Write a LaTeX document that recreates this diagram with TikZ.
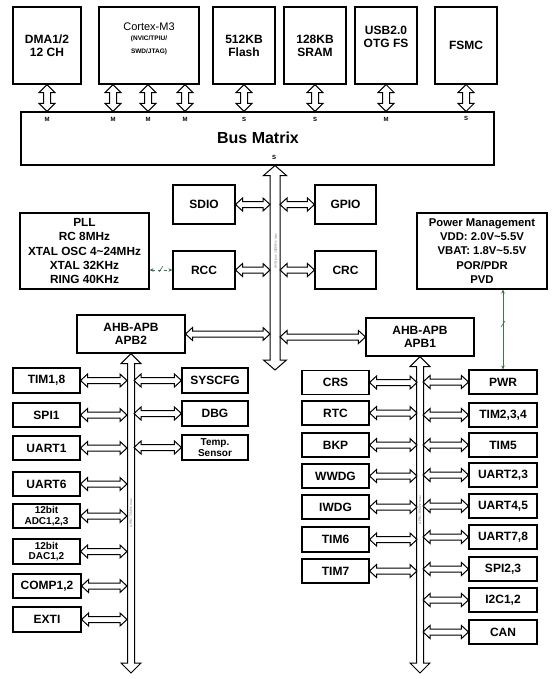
\documentclass[tikz,border=0pt]{standalone}
\usepackage{fontspec}
\setmainfont{Liberation Sans}
\usetikzlibrary{calc,arrows.meta}
\definecolor{grn}{RGB}{60,115,80}
\tikzset{
  box/.style={draw=black, line width=1.1pt, fill=white, inner sep=0pt, align=center,
    font=\bfseries\fontsize{12}{13}\selectfont},
  smallbox/.style={font=\bfseries\fontsize{10}{10.5}\selectfont},
  txt/.style={inner sep=0pt, align=center},
  arr/.style={draw=black, line width=1pt, fill=white, line join=miter},
  ml/.style={font=\bfseries\fontsize{6}{6}\selectfont, inner sep=0pt},
  bustxt/.style={font=\fontsize{3.5}{4}\selectfont, text=gray, rotate=90, inner sep=0pt},
  grnl/.style={draw=grn, line width=0.6pt, {Stealth[length=4pt,width=3.5pt]}-{Stealth[length=4pt,width=3.5pt]}}
}
% horizontal hollow double arrow: left point, right point, half shaft, half head, head length
\newcommand{\hdarr}[5]{\draw[arr] let \p1=(#1), \p2=(#2) in
  (\x1,\y1) -- (\x1+#5pt,\y1+#4pt) -- (\x1+#5pt,\y1+#3pt) -- (\x2-#5pt,\y1+#3pt) -- (\x2-#5pt,\y1+#4pt)
  -- (\x2,\y1) -- (\x2-#5pt,\y1-#4pt) -- (\x2-#5pt,\y1-#3pt) -- (\x1+#5pt,\y1-#3pt) -- (\x1+#5pt,\y1-#4pt) -- cycle;}
% vertical hollow double arrow: top point, bottom point, half shaft, half head, head length
\newcommand{\vdarr}[5]{\draw[arr] let \p1=(#1), \p2=(#2) in
  (\x1,\y1) -- (\x1+#4pt,\y1-#5pt) -- (\x1+#3pt,\y1-#5pt) -- (\x1+#3pt,\y2+#5pt) -- (\x1+#4pt,\y2+#5pt)
  -- (\x1,\y2) -- (\x1-#4pt,\y2+#5pt) -- (\x1-#3pt,\y2+#5pt) -- (\x1-#3pt,\y1-#5pt) -- (\x1-#4pt,\y1-#5pt) -- cycle;}
\newcommand{\hA}[2]{\hdarr{#1}{#2}{3}{6.5}{7}}
\newcommand{\vA}[2]{\vdarr{#1}{#2}{3.5}{8}{8}}
\begin{document}
\begin{tikzpicture}[x=1pt,y=-1pt]
\useasboundingbox (0,0) rectangle (554,679);
% ---------- top row ----------
\node[box, minimum width=68pt, minimum height=77pt] (dma) at (47,45.5) {DMA1/2\\12 CH};
\node[box, minimum width=100pt, minimum height=77pt] (cortex) at (149,45.5) {};
\node[txt, font=\fontsize{11}{12}\selectfont] (cortexT) at (149,27) {Cortex-M3};
\node[txt, font=\bfseries\fontsize{6.5}{13}\selectfont] (cortexS) at (149,45) {(NVIC/TPIU/\\SWD/JTAG)};
\node[box, minimum width=62pt, minimum height=77pt] (flash) at (244,45.5) {512KB\\Flash};
\node[box, minimum width=62pt, minimum height=77pt] (sram) at (315,45.5) {128KB\\SRAM};
\node[box, minimum width=62pt, minimum height=77pt] (usb) at (386,45.5) {};
\node[txt, font=\bfseries\fontsize{12}{13}\selectfont] (usbT) at (386,37) {USB2.0\\OTG FS};
\node[box, minimum width=62pt, minimum height=77pt] (fsmc) at (466,45.5) {FSMC};
% bus matrix
\node[box, minimum width=473pt, minimum height=53pt] (bm) at (257.5,138.5) {};
\node[txt, font=\bfseries\fontsize{16}{18}\selectfont] (bmT) at (258,138) {Bus Matrix};
\coordinate (c1) at (113,0);
\coordinate (c2) at (148,0);
\coordinate (c3) at (185,0);
\vA{dma.south}{dma.south |- bm.north}
\vA{cortex.south -| c1}{bm.north -| c1}
\vA{cortex.south -| c2}{bm.north -| c2}
\vA{cortex.south -| c3}{bm.north -| c3}
\vA{flash.south}{flash.south |- bm.north}
\vA{sram.south}{sram.south |- bm.north}
\vA{usb.south}{usb.south |- bm.north}
\vA{fsmc.south}{fsmc.south |- bm.north}
\node[ml] (m1) at (47,119.5) {M};
\node[ml] (m2) at (113,119.5) {M};
\node[ml] (m3) at (148,119.5) {M};
\node[ml] (m4) at (185,119.5) {M};
\node[ml] (s1) at (244,119.5) {S};
\node[ml] (s2) at (315,119.5) {S};
\node[ml] (m5) at (386,119.5) {M};
\node[ml] (s3) at (466,118.5) {S};
\node[ml] (s4) at (274,157.5) {S};
% ---------- AHB section ----------
\node[box, minimum width=62pt, minimum height=39pt] (sdio) at (204,204.5) {SDIO};
\node[box, minimum width=61pt, minimum height=39pt] (gpio) at (345.5,204.5) {GPIO};
\node[box, minimum width=129pt, minimum height=76pt, font=\bfseries\fontsize{11.8}{14.2}\selectfont] (pll) at (84.5,251)
  {PLL\\RC 8MHz\\XTAL OSC 4\textasciitilde24MHz\\XTAL 32KHz\\RING 40KHz};
\node[box, minimum width=62pt, minimum height=38pt] (rcc) at (204,270) {RCC};
\node[box, minimum width=61pt, minimum height=38pt] (crc) at (345.5,270) {CRC};
\node[box, minimum width=108pt, minimum height=38pt] (apb2) at (131,334) {AHB-APB\\APB2};
\node[box, minimum width=108pt, minimum height=38pt] (apb1) at (420,337) {AHB-APB\\APB1};
\node[box, minimum width=130pt, minimum height=76pt, font=\bfseries\fontsize{11.3}{14.2}\selectfont] (pwrm) at (482,251)
  {Power Management\\VDD: 2.0V\textasciitilde5.5V\\VBAT: 1.8V\textasciitilde5.5V\\POR/PDR\\PVD};
% main AHB bus
\coordinate (ahb) at (275,0);
\coordinate (ahbL) at (270,0);
\coordinate (ahbR) at (280,0);
\coordinate (ahbB) at (275,370);
\vdarr{bm.south -| ahb}{ahbB}{5}{11.5}{10}
\node[bustxt] (ahbT) at (275.5,251) {AHB bus 100MHz max};
\hA{sdio.east}{sdio.east -| ahbL}
\hA{gpio.west -| ahbR}{gpio.west}
\hA{rcc.east}{rcc.east -| ahbL}
\hA{crc.west -| ahbR}{crc.west}
\hA{apb2.east}{apb2.east -| ahbL}
\hA{apb1.west -| ahbR}{apb1.west}
% green link PLL-RCC
\draw[grnl, dashed] (pll.east |- rcc.west) -- (rcc.west);
\draw[grn, line width=0.6pt] (159,272) -- (163,266);
% ---------- APB2 ----------
\coordinate (b2L) at (127,0);
\coordinate (b2R) at (134,0);
\coordinate (b2B) at (131,673);
\vdarr{apb2.south}{b2B}{3.5}{10}{10}
\node[bustxt] (apb2T) at (131,513) {APB2 72MHz max};
\node[box, minimum width=67pt, minimum height=25pt] (tim18) at (46.5,380.5) {TIM1,8};
\node[box, minimum width=67pt, minimum height=24pt] (spi1) at (46.5,415) {SPI1};
\node[box, minimum width=67pt, minimum height=24pt] (uart1) at (46.5,448) {UART1};
\node[box, minimum width=67pt, minimum height=24pt] (uart6) at (46.5,484) {UART6};
\node[box, smallbox, minimum width=67pt, minimum height=24pt] (adc) at (46.5,516) {12bit\\ADC1,2,3};
\node[box, smallbox, minimum width=67pt, minimum height=25pt] (dac) at (46.5,551.5) {12bit\\DAC1,2};
\node[box, minimum width=68pt, minimum height=24pt] (comp) at (47,586) {COMP1,2};
\node[box, minimum width=68pt, minimum height=25pt] (exti) at (47,619.5) {EXTI};
\node[box, minimum width=66pt, minimum height=25pt] (syscfg) at (215,380.5) {SYSCFG};
\node[box, minimum width=66pt, minimum height=25pt] (dbg) at (215,413.5) {DBG};
\node[box, smallbox, minimum width=66pt, minimum height=25pt] (temp) at (215,447.5) {Temp.\\Sensor};
\foreach \bb in {tim18,spi1,uart1,uart6,adc,dac,comp,exti}{\hA{\bb.east}{\bb.east -| b2L}}
\foreach \bb in {syscfg,dbg,temp}{\hA{\bb.west -| b2R}{\bb.west}}
% ---------- APB1 ----------
\coordinate (b1L) at (417,0);
\coordinate (b1R) at (423,0);
\coordinate (b1B) at (420,673);
\vdarr{apb1.south}{b1B}{3.5}{10}{10}
\node[bustxt] (apb1T) at (420,510) {APB1 36MHz max};
\node[box, minimum width=67pt, minimum height=24pt] (crs) at (335.5,382.5) {CRS};
\node[box, minimum width=67pt, minimum height=24pt] (rtc) at (335.5,413) {RTC};
\node[box, minimum width=67pt, minimum height=24pt] (bkp) at (335.5,445) {BKP};
\node[box, minimum width=67pt, minimum height=24pt] (wwdg) at (335.5,476) {WWDG};
\node[box, minimum width=67pt, minimum height=24pt] (iwdg) at (335.5,507) {IWDG};
\node[box, minimum width=67pt, minimum height=25pt] (tim6) at (335.5,539.5) {TIM6};
\node[box, minimum width=67pt, minimum height=24pt] (tim7) at (335.5,571) {TIM7};
\node[box, minimum width=68pt, minimum height=24pt] (pwr) at (503,382) {PWR};
\node[box, minimum width=68pt, minimum height=24pt] (tim234) at (503,415) {TIM2,3,4};
\node[box, minimum width=68pt, minimum height=24pt] (tim5) at (503,445) {TIM5};
\node[box, minimum width=68pt, minimum height=24pt] (uart23) at (503,475) {UART2,3};
\node[box, minimum width=68pt, minimum height=24pt] (uart45) at (503,506) {UART4,5};
\node[box, minimum width=68pt, minimum height=24pt] (uart78) at (503,537) {UART7,8};
\node[box, minimum width=68pt, minimum height=24pt] (spi23) at (503,569) {SPI2,3};
\node[box, minimum width=68pt, minimum height=24pt] (i2c) at (503,600) {I2C1,2};
\node[box, minimum width=68pt, minimum height=24pt] (can) at (503,632) {CAN};
\foreach \bb in {crs,rtc,bkp,wwdg,iwdg,tim6,tim7}{\hA{\bb.east}{\bb.east -| b1L}}
\foreach \bb in {pwr,tim234,tim5,uart23,uart45,uart78,spi23,i2c,can}{\hA{\bb.west -| b1R}{\bb.west}}
% green link power management - PWR
\draw[grnl] (pwr.north |- pwrm.south) -- (pwr.north);
\draw[grn, line width=0.6pt] (501,327) -- (505,321);
\end{tikzpicture}
\end{document}
